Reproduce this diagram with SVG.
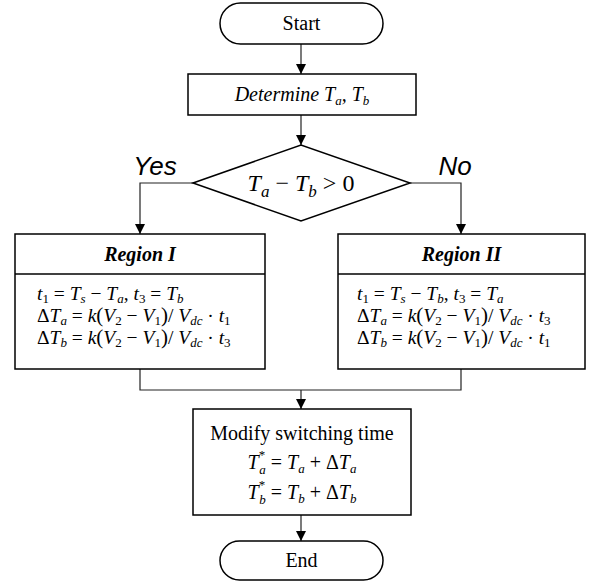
<svg xmlns="http://www.w3.org/2000/svg" width="592" height="588" viewBox="0 0 592 588">
<defs>
<marker id="ah" markerUnits="userSpaceOnUse" markerWidth="10" markerHeight="12" refX="10" refY="5" orient="auto" viewBox="0 0 10 10">
<path d="M0,0 L10,5 L0,10 z" fill="#000"/>
</marker>
<style>
.box{fill:#fff;stroke:#000;stroke-width:1.5}
.con{fill:none;stroke:#222;stroke-width:1.2}
.arr{marker-end:url(#ah)}
text{font-family:"Liberation Serif","Times New Roman",serif;font-size:20px;fill:#000}
.f{font-size:19.5px}
.i{font-style:italic}
.s{font-size:13px}
.p{font-size:21px}
.lab{font-family:"Liberation Sans",Arial,sans-serif;font-style:italic;font-size:26px}
.t{font-weight:bold;font-style:italic}
.dm{font-size:24px}
.dms{font-size:17px}
</style>
</defs>
<g id="connectors">
<line class="con arr" x1="301" y1="44" x2="301" y2="74"/>
<line class="con arr" x1="301" y1="115" x2="301" y2="145"/>
<polyline class="con arr" points="193,183 140,183 140,234"/>
<polyline class="con arr" points="410,183 461,183 461,234"/>
<polyline class="con" points="140,369 140,390 461,390 461,369"/>
<line class="con arr" x1="301" y1="390" x2="301" y2="409"/>
<line class="con arr" x1="301" y1="515" x2="301" y2="541"/>
</g>
<g id="start">
<rect class="box" x="220" y="3" width="163" height="41" rx="20.5" ry="20.5"/>
<text x="301.5" y="30" text-anchor="middle">Start</text>
</g>
<g id="determine">
<rect class="box" x="188" y="74" width="228" height="41"/>
<text x="302" y="101" text-anchor="middle" class="i">Determine T<tspan class="s" dy="4">a</tspan><tspan dy="-4">, T</tspan><tspan class="s" dy="4">b</tspan></text>
</g>
<g id="decision">
<polygon class="box" points="193,183 301,145 410,183 301,221"/>
<text x="301" y="191" text-anchor="middle" class="dm"><tspan class="i">T</tspan><tspan class="i dms" dy="6">a</tspan><tspan dy="-6"> − </tspan><tspan class="i">T</tspan><tspan class="i dms" dy="6">b</tspan><tspan dy="-6"> &gt; 0</tspan></text>
</g>
<text class="lab" x="155" y="175" text-anchor="middle">Yes</text>
<text class="lab" x="455" y="175" text-anchor="middle">No</text>
<g id="region1">
<rect class="box" x="15" y="234" width="250" height="135"/>
<line class="box" x1="15" y1="274" x2="265" y2="274"/>
<text x="140" y="261" text-anchor="middle" class="t">Region I</text>
<text class="f" x="37" y="300"><tspan class="i">t</tspan><tspan class="s" dy="3">1</tspan><tspan dy="-3"> = </tspan><tspan class="i">T</tspan><tspan class="i s" dy="3">s</tspan><tspan dy="-3"> − </tspan><tspan class="i">T</tspan><tspan class="i s" dy="3">a</tspan><tspan dy="-3">, </tspan><tspan class="i">t</tspan><tspan class="s" dy="3">3</tspan><tspan dy="-3"> = </tspan><tspan class="i">T</tspan><tspan class="i s" dy="3">b</tspan></text>
<text class="f" x="37" y="322"><tspan>Δ</tspan><tspan class="i">T</tspan><tspan class="i s" dy="3">a</tspan><tspan dy="-3"> = </tspan><tspan class="i">k</tspan><tspan class="p">(</tspan><tspan class="i">V</tspan><tspan class="s" dy="3">2</tspan><tspan dy="-3"> − </tspan><tspan class="i">V</tspan><tspan class="s" dy="3">1</tspan><tspan class="p" dy="-3">)</tspan><tspan>/ </tspan><tspan class="i">V</tspan><tspan class="i s" dy="3">dc</tspan><tspan dy="-3"> · </tspan><tspan class="i">t</tspan><tspan class="s" dy="3">1</tspan></text>
<text class="f" x="37" y="344"><tspan>Δ</tspan><tspan class="i">T</tspan><tspan class="i s" dy="3">b</tspan><tspan dy="-3"> = </tspan><tspan class="i">k</tspan><tspan class="p">(</tspan><tspan class="i">V</tspan><tspan class="s" dy="3">2</tspan><tspan dy="-3"> − </tspan><tspan class="i">V</tspan><tspan class="s" dy="3">1</tspan><tspan class="p" dy="-3">)</tspan><tspan>/ </tspan><tspan class="i">V</tspan><tspan class="i s" dy="3">dc</tspan><tspan dy="-3"> · </tspan><tspan class="i">t</tspan><tspan class="s" dy="3">3</tspan></text>
</g>
<g id="region2">
<rect class="box" x="338" y="234" width="247" height="135"/>
<line class="box" x1="338" y1="274" x2="585" y2="274"/>
<text x="461.5" y="261" text-anchor="middle" class="t">Region II</text>
<text class="f" x="357" y="300"><tspan class="i">t</tspan><tspan class="s" dy="3">1</tspan><tspan dy="-3"> = </tspan><tspan class="i">T</tspan><tspan class="i s" dy="3">s</tspan><tspan dy="-3"> − </tspan><tspan class="i">T</tspan><tspan class="i s" dy="3">b</tspan><tspan dy="-3">, </tspan><tspan class="i">t</tspan><tspan class="s" dy="3">3</tspan><tspan dy="-3"> = </tspan><tspan class="i">T</tspan><tspan class="i s" dy="3">a</tspan></text>
<text class="f" x="357" y="322"><tspan>Δ</tspan><tspan class="i">T</tspan><tspan class="i s" dy="3">a</tspan><tspan dy="-3"> = </tspan><tspan class="i">k</tspan><tspan class="p">(</tspan><tspan class="i">V</tspan><tspan class="s" dy="3">2</tspan><tspan dy="-3"> − </tspan><tspan class="i">V</tspan><tspan class="s" dy="3">1</tspan><tspan class="p" dy="-3">)</tspan><tspan>/ </tspan><tspan class="i">V</tspan><tspan class="i s" dy="3">dc</tspan><tspan dy="-3"> · </tspan><tspan class="i">t</tspan><tspan class="s" dy="3">3</tspan></text>
<text class="f" x="357" y="344"><tspan>Δ</tspan><tspan class="i">T</tspan><tspan class="i s" dy="3">b</tspan><tspan dy="-3"> = </tspan><tspan class="i">k</tspan><tspan class="p">(</tspan><tspan class="i">V</tspan><tspan class="s" dy="3">2</tspan><tspan dy="-3"> − </tspan><tspan class="i">V</tspan><tspan class="s" dy="3">1</tspan><tspan class="p" dy="-3">)</tspan><tspan>/ </tspan><tspan class="i">V</tspan><tspan class="i s" dy="3">dc</tspan><tspan dy="-3"> · </tspan><tspan class="i">t</tspan><tspan class="s" dy="3">1</tspan></text>
</g>
<g id="modify">
<rect class="box" x="193" y="409" width="218" height="106"/>
<text x="302" y="440" text-anchor="middle">Modify switching time</text>
<text x="302" y="469" text-anchor="middle"><tspan class="i">T</tspan><tspan class="s" dy="-10">*</tspan><tspan class="i s" dx="-6" dy="15">a</tspan><tspan dy="-5"> = </tspan><tspan class="i">T</tspan><tspan class="i s" dy="4">a</tspan><tspan dy="-4"> + Δ</tspan><tspan class="i">T</tspan><tspan class="i s" dy="4">a</tspan></text>
<text x="302" y="499" text-anchor="middle"><tspan class="i">T</tspan><tspan class="s" dy="-10">*</tspan><tspan class="i s" dx="-6" dy="15">b</tspan><tspan dy="-5"> = </tspan><tspan class="i">T</tspan><tspan class="i s" dy="4">b</tspan><tspan dy="-4"> + Δ</tspan><tspan class="i">T</tspan><tspan class="i s" dy="4">b</tspan></text>
</g>
<g id="end">
<rect class="box" x="220" y="541" width="163" height="39" rx="19.5" ry="19.5"/>
<text x="301.5" y="567" text-anchor="middle">End</text>
</g>
</svg>
